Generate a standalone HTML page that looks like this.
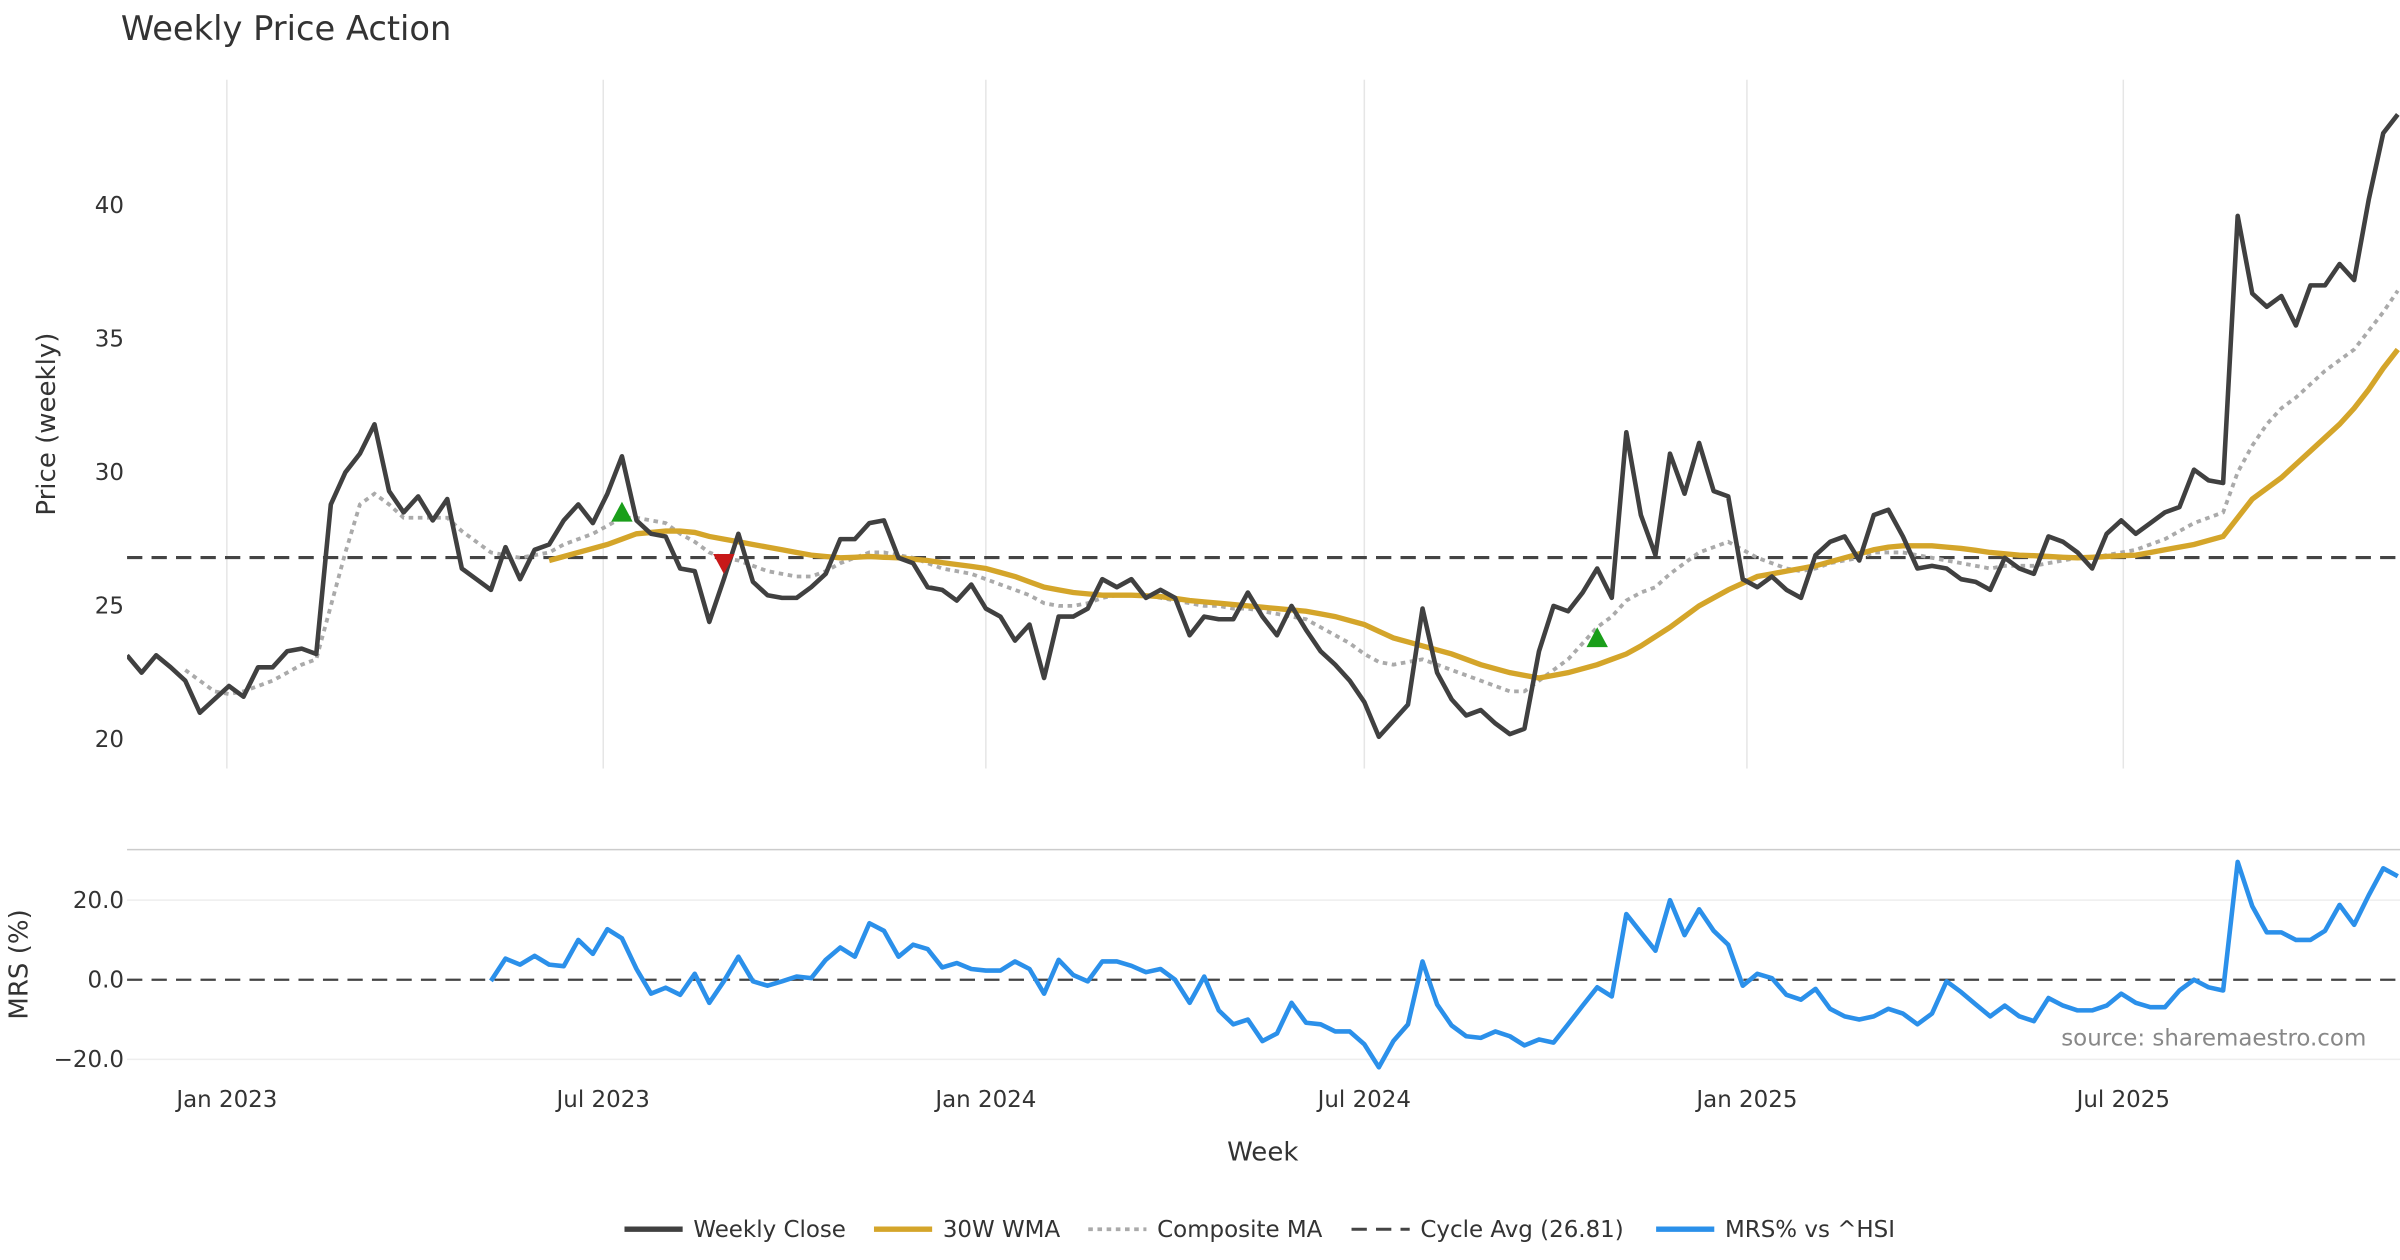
<!DOCTYPE html>
<html><head><meta charset="utf-8"><title>Weekly Price Action</title>
<style>html,body{margin:0;padding:0;background:#fff}svg{display:block}text{font-family:"DejaVu Sans","Liberation Sans",sans-serif;fill:#333}</style>
</head><body>
<svg id="chart" width="2400" height="1260" viewBox="0 0 1568 823" xmlns="http://www.w3.org/2000/svg">
<defs><clipPath id="plotclip"><rect x="83" y="40" width="1485" height="680"/></clipPath></defs>
<text x="79" y="26" font-size="22">Weekly Price Action</text>
<g id="grid"></g>
<g id="axes"></g>
<g id="series" clip-path="url(#plotclip)"></g>
<text transform="translate(36,277) rotate(-90)" text-anchor="middle" font-size="17">Price (weekly)</text>
<text transform="translate(18,630) rotate(-90)" text-anchor="middle" font-size="17">MRS (%)</text>
<text x="825" y="758" text-anchor="middle" font-size="17">Week</text>
<text x="1546" y="683" text-anchor="end" font-size="15" fill="#888" style="fill:#888">source: sharemaestro.com</text>
<g id="legend"></g>
</svg>
<script>
const startDate = "2022-11-14";
const closeVals = [23.15,22.5,23.15,22.7,22.2,21.0,21.5,22.0,21.6,22.7,22.7,23.3,23.4,23.2,28.8,30.0,30.7,31.8,29.3,28.5,29.1,28.2,29.0,26.4,26.0,25.6,27.2,26.0,27.1,27.3,28.2,28.8,28.1,29.2,30.6,28.2,27.7,27.6,26.4,26.3,24.4,26.0,27.7,25.9,25.4,25.3,25.3,25.7,26.2,27.5,27.5,28.1,28.2,26.8,26.6,25.7,25.6,25.2,25.8,24.9,24.6,23.7,24.3,22.3,24.6,24.6,24.9,26.0,25.7,26.0,25.3,25.6,25.3,23.9,24.6,24.5,24.5,25.5,24.6,23.9,25.0,24.1,23.3,22.8,22.2,21.4,20.1,20.7,21.3,24.9,22.5,21.5,20.9,21.1,20.6,20.2,20.4,23.3,25.0,24.8,25.5,26.4,25.3,31.5,28.4,26.9,30.7,29.2,31.1,29.3,29.1,26.0,25.7,26.1,25.6,25.3,26.9,27.4,27.6,26.7,28.4,28.6,27.6,26.4,26.5,26.4,26.0,25.9,25.6,26.8,26.4,26.2,27.6,27.4,27.0,26.4,27.7,28.2,27.7,28.1,28.5,28.7,30.1,29.7,29.6,39.6,36.7,36.2,36.6,35.5,37.0,37.0,37.8,37.2,40.2,42.7,43.4];
const wmaVals = [null,null,null,null,null,null,null,null,null,null,null,null,null,null,null,null,null,null,null,null,null,null,null,null,null,null,null,null,null,26.7,26.85,27.0,27.15,27.3,27.5,27.7,27.75,27.8,27.8,27.75,27.6,27.5,27.4,27.3,27.2,27.1,27.0,26.9,26.85,26.8,26.82,26.85,26.82,26.8,26.75,26.7,26.62,26.55,26.48,26.4,26.25,26.1,25.9,25.7,25.6,25.5,25.45,25.4,25.4,25.4,25.38,25.35,25.28,25.2,25.15,25.1,25.05,25.0,24.95,24.9,24.85,24.8,24.7,24.6,24.45,24.3,24.05,23.8,23.65,23.5,23.35,23.2,23.0,22.8,22.65,22.5,22.4,22.3,22.4,22.5,22.65,22.8,23.0,23.2,23.5,23.85,24.2,24.6,25.0,25.3,25.6,25.85,26.1,26.2,26.3,26.4,26.5,26.65,26.8,26.95,27.1,27.2,27.25,27.25,27.25,27.2,27.15,27.08,27.0,26.95,26.9,26.88,26.85,26.82,26.8,26.82,26.85,26.88,26.9,27.0,27.1,27.2,27.3,27.45,27.6,28.3,29.0,29.4,29.8,30.3,30.8,31.3,31.8,32.4,33.1,33.9,34.6];
const compVals = [null,null,null,null,22.6,22.2,21.8,21.7,21.8,22.0,22.2,22.5,22.8,23.0,25.0,27.0,28.8,29.2,28.8,28.3,28.3,28.3,28.3,27.8,27.4,27.0,26.9,26.8,26.9,27.0,27.3,27.5,27.7,28.0,28.3,28.3,28.2,28.1,27.7,27.4,27.0,26.8,26.7,26.5,26.3,26.2,26.1,26.1,26.3,26.6,26.8,27.0,27.0,26.9,26.8,26.6,26.4,26.3,26.2,26.0,25.8,25.6,25.4,25.1,25.0,25.0,25.1,25.3,25.4,25.4,25.4,25.3,25.2,25.1,25.0,25.0,24.9,24.9,24.8,24.7,24.6,24.5,24.2,23.9,23.6,23.2,22.9,22.8,22.9,23.0,22.8,22.6,22.4,22.2,22.0,21.8,21.8,22.2,22.6,23.0,23.6,24.2,24.6,25.2,25.5,25.7,26.2,26.6,27.0,27.2,27.4,27.1,26.8,26.6,26.4,26.3,26.4,26.6,26.7,26.8,27.0,27.0,27.0,26.9,26.8,26.7,26.6,26.5,26.4,26.5,26.5,26.5,26.6,26.7,26.8,26.8,26.9,27.0,27.1,27.3,27.5,27.8,28.1,28.3,28.5,30.0,31.0,31.8,32.4,32.8,33.3,33.8,34.2,34.6,35.3,36.0,36.8];
const mrsVals = [null,null,null,null,null,null,null,null,null,null,null,null,null,null,null,null,null,null,null,null,null,null,null,null,null,-0.3,5.3,3.8,6.0,3.8,3.4,10.0,6.5,12.7,10.4,2.7,-3.5,-2.0,-3.8,1.5,-5.8,-0.4,5.8,-0.4,-1.5,-0.4,0.8,0.4,5.0,8.1,5.8,14.2,12.3,5.8,8.8,7.7,3.1,4.2,2.7,2.3,2.3,4.6,2.7,-3.5,5.0,1.2,-0.4,4.6,4.6,3.5,1.9,2.7,0.0,-5.8,0.8,-7.7,-11.2,-10.0,-15.4,-13.5,-5.8,-10.8,-11.2,-13.0,-13.0,-16.2,-22.0,-15.4,-11.2,4.6,-6.2,-11.5,-14.2,-14.6,-13.0,-14.2,-16.5,-15.0,-15.8,-11.2,-6.5,-1.9,-4.2,16.5,11.9,7.3,20.0,11.2,17.7,12.3,8.8,-1.5,1.5,0.4,-3.8,-5.0,-2.3,-7.3,-9.2,-10.0,-9.2,-7.3,-8.5,-11.2,-8.5,-0.4,-3.1,-6.2,-9.2,-6.5,-9.2,-10.4,-4.6,-6.5,-7.7,-7.7,-6.5,-3.5,-5.8,-6.9,-6.9,-2.7,0.0,-1.9,-2.7,29.6,18.5,11.9,11.9,10.0,10.0,12.3,18.8,13.8,21.2,28.0,26.0];
const cycleAvg = 26.81;
const buyIdx = [34, 101];
const buyVals = [28.5, 23.8];
const sellIdx = [41];
const sellVals = [26.6];
const priceTicks = [20, 25, 30, 35, 40];
const mrsTicks = [-20, 0, 20];
const mrsTickLabels = ["\u221220.0", "0.0", "20.0"];
const dateTicks = ["2023-01-01","2023-07-01","2024-01-01","2024-07-01","2025-01-01","2025-07-01"];
const dateTickLabels = ["Jan 2023","Jul 2023","Jan 2024","Jul 2024","Jan 2025","Jul 2025"];

const NS = "http://www.w3.org/2000/svg";
const t0 = Date.parse(startDate + "T00:00:00Z");
const pxPerDay = 9.51 / 7;
function xDate(d){ return 83 + (Date.parse(d + "T00:00:00Z") - t0) / 86400000 * pxPerDay; }
function xIdx(i){ return 83 + i * 7 * pxPerDay; }
function yPrice(v){ return 134 + (40 - v) * 17.45; }
function yMrs(v){ return 640 - v * 2.6; }
function mk(tag, attrs, parent){
  const e = document.createElementNS(NS, tag);
  for (const k in attrs) e.setAttribute(k, attrs[k]);
  parent.appendChild(e); return e;
}
const grid = document.getElementById('grid');
const axes = document.getElementById('axes');
const series = document.getElementById('series');
const legend = document.getElementById('legend');

dateTicks.forEach((d, k) => {
  const x = xDate(d);
  const gl = mk('line', {x1:x, x2:x, y1:52, y2:502, stroke:'#e6e6e6', 'stroke-width':1}, grid);
  
  
  const tl = mk('text', {x:x, y:723, 'text-anchor':'middle', 'font-size':15}, axes);
  tl.textContent = dateTickLabels[k];
  
  
});
priceTicks.forEach(v => {
  const t = mk('text', {x:81, y:yPrice(v) + 5, 'text-anchor':'end', 'font-size':15}, axes);
  t.textContent = String(v);
  
  
});
const sep = mk('line', {x1:83, x2:1568, y1:555, y2:555, stroke:'#cccccc', 'stroke-width':1}, grid);


mrsTicks.forEach((v, k) => {
  if (v !== 0) {
    const g = mk('line', {x1:83, x2:1568, y1:yMrs(v), y2:yMrs(v), stroke:'#eeeeee', 'stroke-width':1}, grid);
    
    
  }
  const t = mk('text', {x:81, y:yMrs(v) + 5, 'text-anchor':'end', 'font-size':15}, axes);
  t.textContent = mrsTickLabels[k];
  
  
});

function pathFrom(vals, yf){
  let d = '', started = false;
  vals.forEach((v, i) => {
    if (v === null) { started = false; return; }
    d += (started ? 'L' : 'M') + xIdx(i).toFixed(2) + ',' + yf(v).toFixed(2);
    started = true;
  });
  return d;
}
const cyc = mk('line', {x1:83, x2:1568, y1:yPrice(cycleAvg), y2:yPrice(cycleAvg), stroke:'#444', 'stroke-width':2, 'stroke-dasharray':'10,6'}, series);


const zl = mk('line', {x1:83, x2:1568, y1:yMrs(0), y2:yMrs(0), stroke:'#444', 'stroke-width':1.5, 'stroke-dasharray':'10,6'}, series);


const comp = mk('path', {d:pathFrom(compVals, yPrice), fill:'none', stroke:'#aaaaaa', 'stroke-width':2.5, 'stroke-dasharray':'3,3'}, series);


const wma = mk('path', {d:pathFrom(wmaVals, yPrice), fill:'none', stroke:'#d4a52a', 'stroke-width':3.5}, series);


const cl = mk('path', {d:pathFrom(closeVals, yPrice), fill:'none', stroke:'#404040', 'stroke-width':3, 'stroke-linejoin':'round'}, series);


const mrs = mk('path', {d:pathFrom(mrsVals, yMrs), fill:'none', stroke:'#2b90ea', 'stroke-width':3, 'stroke-linejoin':'round'}, series);


buyIdx.forEach((i, k) => {
  const x = xIdx(i), y = yPrice(buyVals[k]);
  const p = mk('polygon', {points:`${x-7},${y+6} ${x+7},${y+6} ${x},${y-7}`, fill:'#1a9e1a'}, series);
  
  
});
sellIdx.forEach((i, k) => {
  const x = xIdx(i), y = yPrice(sellVals[k]);
  const p = mk('polygon', {points:`${x-7},${y-6} ${x+7},${y-6} ${x},${y+7}`, fill:'#c81818'}, series);
  
  
});

const legItems = [
  {x:408, label:'Weekly Close', stroke:'#404040', dash:'', w:3.5},
  {x:571, label:'30W WMA', stroke:'#d4a52a', dash:'', w:3.5},
  {x:711, label:'Composite MA', stroke:'#aaaaaa', dash:'3,3', w:2.5},
  {x:883, label:'Cycle Avg (26.81)', stroke:'#444', dash:'10,6', w:2},
  {x:1082, label:'MRS% vs ^HSI', stroke:'#2b90ea', dash:'', w:3.5}
];
legItems.forEach(it => {
  const g = mk('g', {}, legend);
  
  
  const a = {x1:it.x, x2:it.x + 38, y1:803, y2:803, stroke:it.stroke, 'stroke-width':it.w};
  if (it.dash) a['stroke-dasharray'] = it.dash;
  const ln = mk('line', a, g);
  
  
  const tx = mk('text', {x:it.x + 45, y:808, 'font-size':15}, g);
  tx.textContent = it.label;
  
  
});
</script>
</body></html>
